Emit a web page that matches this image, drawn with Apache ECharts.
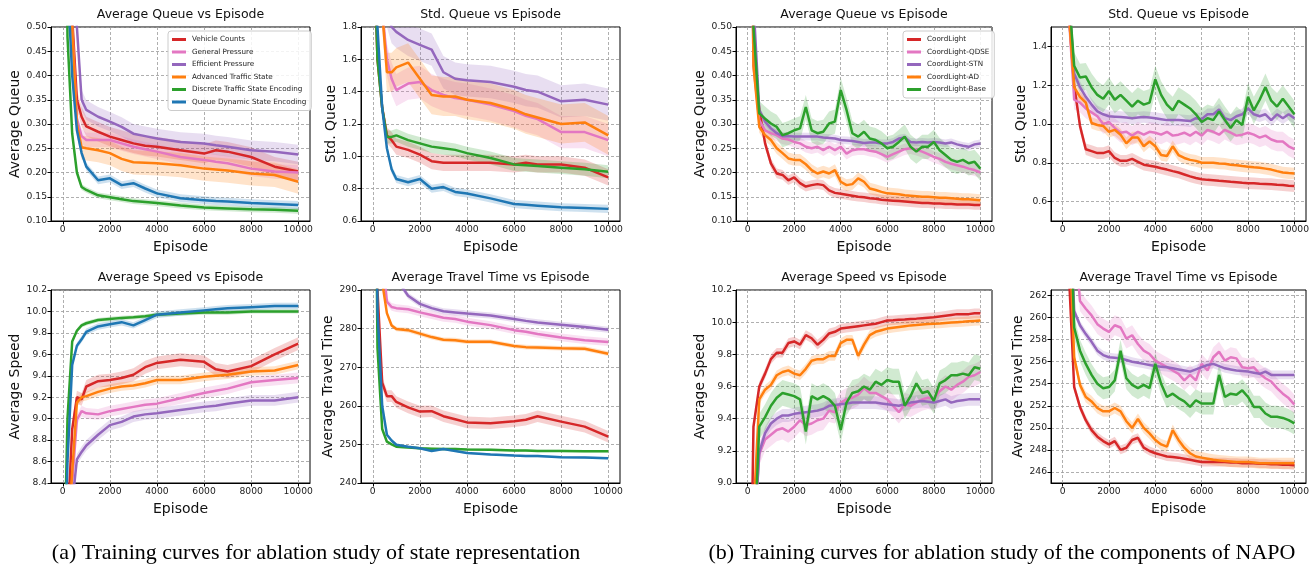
<!DOCTYPE html>
<html><head><meta charset="utf-8">
<script src="https://cdn.jsdelivr.net/npm/echarts@6/dist/echarts.min.js"></script>
<style>html,body{margin:0;padding:0;background:#fff}#c{width:1315px;height:566px}</style>
</head><body><div id="c"></div>
<script>
// ---------- data ----------
const NAMES_A = ['Vehicle Counts','General Pressure','Efficient Pressure','Advanced Traffic State','Discrete Traffic State Encoding','Queue Dynamic State Encoding'];
const NAMES_B = ['CoordLight','CoordLight-QDSE','CoordLight-STN','CoordLight-AD','CoordLight-Base'];
const X_TICKS = [0, 2000, 4000, 6000, 8000, 10000];
const EP_A = [0, 200, 400, 600, 800, 1000, 1500, 2000, 2500, 3000, 3500, 4000, 5000, 6000, 6500, 7000, 8000, 9000, 10000];
const EP_B = [0,250,500,750,1000,1250,1500,1750,2000,2250,2500,2750,3000,3250,3500,3750,4000,4250,4500,4750,5000,5250,5500,5750,6000,6250,6500,6750,7000,7250,7500,7750,8000,8250,8500,8750,9000,9250,9500,9750,10000];

// (a) Average Queue
const aq_a_vehicle   = [1.5, 0.8, 0.52, 0.35, 0.315, 0.295, 0.284, 0.274, 0.267, 0.26, 0.255, 0.253, 0.246, 0.239, 0.246, 0.243, 0.232, 0.212, 0.202];
const aq_a_general   = [1.5, 0.8, 0.5, 0.31, 0.275, 0.267, 0.267, 0.267, 0.26, 0.253, 0.248, 0.243, 0.232, 0.226, 0.222, 0.219, 0.208, 0.202, 0.2];
const aq_a_efficient = [1.5, 0.9, 0.65, 0.5, 0.35, 0.329, 0.315, 0.305, 0.294, 0.28, 0.275, 0.27, 0.263, 0.26, 0.256, 0.253, 0.246, 0.243, 0.237];
const aq_a_advanced  = [1.5, 0.8, 0.5, 0.3, 0.252, 0.25, 0.246, 0.24, 0.228, 0.221, 0.22, 0.219, 0.215, 0.208, 0.206, 0.204, 0.198, 0.195, 0.181];
const aq_a_discrete  = [1.5, 0.48, 0.28, 0.2, 0.17, 0.164, 0.153, 0.149, 0.145, 0.141, 0.139, 0.137, 0.132, 0.128, 0.127, 0.126, 0.124, 0.123, 0.121];
const aq_a_queuedyn  = [1.5, 0.6, 0.4, 0.287, 0.24, 0.212, 0.184, 0.188, 0.174, 0.178, 0.167, 0.157, 0.147, 0.143, 0.141, 0.14, 0.137, 0.135, 0.133];
const aq_a_spread    = [0.02, 0.015, 0.02, 0.025, 0.006, 0.008];
// (a) Std Queue
const sq_a_vehicle   = [2.5, 1.6, 1.3, 1.13, 1.1, 1.06, 1.04, 1.01, 0.97, 0.96, 0.96, 0.96, 0.96, 0.95, 0.96, 0.95, 0.95, 0.93, 0.87];
const sq_a_general   = [3, 2.3, 1.9, 1.6, 1.48, 1.41, 1.45, 1.46, 1.41, 1.38, 1.36, 1.35, 1.32, 1.28, 1.25, 1.23, 1.15, 1.15, 1.10];
const sq_a_efficient = [3, 2.4, 2.1, 1.9, 1.8, 1.77, 1.72, 1.69, 1.66, 1.52, 1.48, 1.47, 1.46, 1.43, 1.41, 1.40, 1.34, 1.35, 1.32];
const sq_a_advanced  = [3, 2.3, 1.9, 1.52, 1.52, 1.55, 1.58, 1.48, 1.38, 1.37, 1.37, 1.35, 1.33, 1.29, 1.26, 1.24, 1.20, 1.21, 1.13];
const sq_a_discrete  = [2.5, 1.6, 1.3, 1.12, 1.12, 1.13, 1.10, 1.08, 1.06, 1.05, 1.04, 1.02, 0.99, 0.95, 0.945, 0.94, 0.93, 0.92, 0.905];
const sq_a_queuedyn  = [2.5, 1.8, 1.3, 1.05, 0.92, 0.86, 0.84, 0.86, 0.8, 0.81, 0.78, 0.77, 0.74, 0.705, 0.70, 0.695, 0.685, 0.68, 0.675];
const sq_a_spread    = [0.05, 0.1, 0.1, 0.12, 0.04, 0.025];
// (a) Average Speed
const sp_a_vehicle   = [7, 8.0, 8.9, 9.2, 9.18, 9.3, 9.35, 9.36, 9.38, 9.41, 9.48, 9.52, 9.55, 9.53, 9.46, 9.44, 9.49, 9.6, 9.70];
const sp_a_general   = [7, 7.8, 8.4, 8.99, 9.07, 9.05, 9.04, 9.07, 9.09, 9.11, 9.13, 9.14, 9.19, 9.24, 9.26, 9.28, 9.34, 9.36, 9.38];
const sp_a_efficient = [7, 7.5, 8.2, 8.62, 8.69, 8.75, 8.85, 8.94, 8.97, 9.02, 9.04, 9.05, 9.08, 9.11, 9.12, 9.14, 9.17, 9.17, 9.20];
const sp_a_advanced  = [7, 7.8, 8.5, 9.15, 9.2, 9.21, 9.25, 9.28, 9.3, 9.31, 9.33, 9.36, 9.36, 9.39, 9.40, 9.41, 9.44, 9.45, 9.50];
const sp_a_discrete  = [7, 9.0, 9.72, 9.82, 9.87, 9.89, 9.92, 9.93, 9.94, 9.945, 9.955, 9.97, 9.98, 9.99, 9.99, 9.99, 10.0, 10.0, 10.0];
const sp_a_queuedyn  = [7, 8.6, 9.5, 9.68, 9.74, 9.81, 9.86, 9.88, 9.9, 9.87, 9.92, 9.97, 9.99, 10.01, 10.02, 10.03, 10.04, 10.05, 10.05];
const sp_a_spread    = [0.06, 0.05, 0.05, 0.04, 0.02, 0.03];
// (a) Average Travel Time
const tt_a_vehicle   = [400, 290, 266, 262.5, 262.5, 261, 259.6, 258.5, 258.6, 257.3, 256.5, 255.7, 255.5, 256.0, 256.4, 257.3, 255.9, 254.6, 252.0];
const tt_a_general   = [400, 330, 300, 287, 285.6, 285.3, 285.0, 284.2, 283.5, 282.8, 282.5, 281.8, 280.9, 279.6, 279.2, 278.6, 277.7, 277.0, 276.5];
const tt_a_efficient = [400, 340, 310, 300, 296, 293, 288.5, 286.4, 285.3, 284.5, 284.2, 283.9, 283.4, 282.5, 282.0, 281.6, 281.0, 280.4, 279.7];
const tt_a_advanced  = [400, 320, 292, 284, 280.8, 279.9, 279.6, 278.7, 277.8, 277.1, 277.0, 276.6, 276.6, 275.5, 275.2, 275.1, 274.9, 274.8, 273.5];
const tt_a_discrete  = [400, 275, 254, 250.7, 250.0, 249.4, 249.2, 249.0, 248.9, 248.8, 248.8, 248.7, 248.6, 248.4, 248.4, 248.3, 248.3, 248.2, 248.2];
const tt_a_queuedyn  = [400, 285, 260, 252.5, 251.0, 249.9, 249.4, 249.0, 248.3, 248.8, 248.3, 247.8, 247.4, 247.1, 247.0, 247.0, 246.7, 246.6, 246.4];
const tt_a_spread    = [1.5, 1.0, 0.8, 0.6, 0.3, 0.3];

// (b) Average Queue
const aq_b_coord = [1.5,0.45,0.33,0.26,0.219,0.198,0.195,0.184,0.19,0.178,0.171,0.174,0.176,0.174,0.163,0.158,0.156,0.154,0.152,0.150,0.149,0.147,0.146,0.144,0.143,0.142,0.141,0.140,0.139,0.138,0.137,0.137,0.136,0.136,0.135,0.135,0.134,0.134,0.134,0.133,0.133];
const aq_b_qdse  = [1.5,0.42,0.308,0.287,0.281,0.277,0.27,0.268,0.263,0.26,0.253,0.25,0.253,0.246,0.253,0.246,0.253,0.239,0.246,0.248,0.248,0.245,0.243,0.238,0.232,0.238,0.243,0.248,0.25,0.247,0.243,0.238,0.232,0.228,0.222,0.218,0.215,0.212,0.208,0.205,0.2];
const aq_b_stn   = [1.5,0.55,0.329,0.305,0.291,0.281,0.275,0.275,0.274,0.274,0.274,0.274,0.274,0.272,0.271,0.27,0.267,0.266,0.265,0.263,0.261,0.262,0.262,0.260,0.26,0.263,0.27,0.272,0.263,0.262,0.263,0.262,0.263,0.262,0.26,0.262,0.258,0.255,0.253,0.258,0.26];
const aq_b_ad    = [1.5,0.42,0.294,0.277,0.267,0.25,0.24,0.229,0.226,0.226,0.217,0.205,0.198,0.202,0.198,0.205,0.181,0.174,0.176,0.188,0.181,0.167,0.164,0.16,0.157,0.156,0.155,0.153,0.152,0.151,0.150,0.150,0.149,0.148,0.148,0.147,0.146,0.145,0.145,0.144,0.143];
const aq_b_base  = [1.5,0.5,0.322,0.311,0.301,0.294,0.277,0.281,0.287,0.291,0.335,0.287,0.281,0.284,0.301,0.305,0.37,0.329,0.281,0.274,0.284,0.27,0.267,0.26,0.25,0.253,0.263,0.274,0.253,0.243,0.253,0.253,0.263,0.246,0.236,0.226,0.222,0.226,0.219,0.222,0.208];
const aq_b_spread = [0.01, 0.012, 0.008, 0.012, 0.025];
// (b) Std Queue
const sq_b_coord = [3,1.6,1.2,0.99,0.87,0.86,0.85,0.85,0.86,0.825,0.81,0.81,0.82,0.805,0.79,0.785,0.78,0.772,0.765,0.757,0.75,0.74,0.73,0.722,0.715,0.712,0.71,0.707,0.705,0.702,0.70,0.697,0.695,0.694,0.692,0.691,0.69,0.687,0.685,0.682,0.68];
const sq_b_qdse  = [3,1.6,1.125,1.11,1.08,1.06,1.04,1.0,1.01,0.98,0.955,0.96,0.94,0.96,0.945,0.96,0.955,0.945,0.96,0.94,0.945,0.955,0.94,0.96,0.94,0.97,0.96,0.945,0.97,0.955,0.94,0.945,0.955,0.945,0.93,0.94,0.92,0.91,0.91,0.885,0.87];
const sq_b_stn   = [3,1.7,1.26,1.19,1.14,1.10,1.065,1.05,1.04,1.038,1.036,1.033,1.03,1.033,1.036,1.033,1.03,1.025,1.02,1.02,1.02,1.018,1.015,1.03,1.025,1.05,1.05,1.075,1.03,1.02,1.04,1.05,1.08,1.05,1.04,1.05,1.02,1.05,1.03,1.05,1.03];
const sq_b_ad    = [3,1.6,1.19,1.14,1.11,1.005,0.995,0.99,0.96,0.97,0.945,0.90,0.93,0.93,0.885,0.91,0.885,0.84,0.835,0.885,0.84,0.825,0.815,0.81,0.80,0.80,0.80,0.797,0.795,0.79,0.787,0.783,0.78,0.777,0.775,0.77,0.765,0.757,0.75,0.747,0.745];
const sq_b_base  = [3,1.7,1.30,1.24,1.245,1.19,1.15,1.13,1.17,1.125,1.15,1.12,1.09,1.12,1.10,1.11,1.23,1.15,1.10,1.07,1.12,1.10,1.08,1.05,1.01,1.03,1.02,1.065,1.02,0.98,1.02,0.995,1.14,1.07,1.125,1.19,1.12,1.09,1.13,1.09,1.05];
const sq_b_spread = [0.03, 0.05, 0.03, 0.03, 0.07];
// (b) Average Speed
const sp_b_coord = [7,9.35,9.60,9.68,9.77,9.81,9.81,9.87,9.88,9.86,9.92,9.90,9.86,9.89,9.93,9.94,9.96,9.965,9.97,9.975,9.98,9.985,9.99,10.0,10.01,10.012,10.015,10.017,10.02,10.022,10.025,10.028,10.03,10.035,10.04,10.045,10.05,10.05,10.05,10.055,10.055];
const sp_b_qdse  = [7,8.6,9.18,9.27,9.30,9.33,9.34,9.32,9.35,9.39,9.36,9.37,9.39,9.40,9.45,9.44,9.50,9.52,9.53,9.55,9.59,9.56,9.56,9.54,9.52,9.48,9.44,9.49,9.48,9.50,9.52,9.53,9.52,9.57,9.60,9.58,9.61,9.63,9.66,9.67,9.69];
const sp_b_stn   = [7,8.6,9.19,9.31,9.37,9.40,9.42,9.42,9.43,9.435,9.44,9.445,9.45,9.46,9.48,9.485,9.49,9.495,9.50,9.50,9.50,9.50,9.50,9.495,9.49,9.485,9.48,9.49,9.50,9.505,9.51,9.505,9.50,9.51,9.52,9.50,9.51,9.515,9.52,9.52,9.52];
const sp_b_ad    = [7,8.8,9.52,9.58,9.61,9.67,9.69,9.70,9.68,9.67,9.71,9.76,9.77,9.77,9.79,9.79,9.87,9.89,9.89,9.79,9.86,9.92,9.94,9.95,9.96,9.965,9.97,9.975,9.98,9.982,9.985,9.988,9.99,9.992,9.995,9.998,10.0,10.002,10.005,10.008,10.01];
const sp_b_base  = [7,8.5,9.35,9.41,9.48,9.53,9.56,9.55,9.54,9.52,9.32,9.54,9.52,9.54,9.52,9.48,9.33,9.50,9.56,9.57,9.60,9.58,9.63,9.61,9.64,9.63,9.63,9.48,9.54,9.62,9.56,9.57,9.51,9.62,9.64,9.67,9.67,9.68,9.67,9.72,9.71];
const sp_b_spread = [0.03, 0.07, 0.04, 0.03, 0.08];
// (b) Average Travel Time
const tt_b_coord = [330,265,253.7,251.9,250.7,249.8,249.2,248.8,248.5,248.8,248.0,248.2,248.9,249.1,248.2,247.9,247.7,247.55,247.4,247.35,247.3,247.2,247.1,247.0,246.9,246.9,246.9,246.9,246.9,246.85,246.85,246.8,246.8,246.8,246.75,246.75,246.7,246.7,246.65,246.65,246.6];
const tt_b_qdse  = [330,285,268,261.5,260.8,260.2,259.4,259.0,258.7,259.3,259.1,258.1,258.4,257.6,257.0,256.7,256.1,255.8,255.5,255.2,254.9,254.3,254.8,254.3,255.8,255.2,256.4,256.9,256.1,256.4,256.3,255.5,255.4,255.5,254.9,254.5,254.2,253.6,253.1,252.7,252.1];
const tt_b_stn   = [330,275,260.6,259.3,258.5,257.8,257.0,256.6,256.4,256.35,256.3,256.15,256.0,255.9,255.8,255.7,255.6,255.55,255.5,255.4,255.3,255.2,255.1,255.3,255.5,255.7,255.8,255.6,255.4,255.3,255.2,255.15,255.1,255.0,254.9,255.1,254.8,254.8,254.8,254.8,254.8];
const tt_b_ad    = [330,270,256.4,253.9,252.8,252.4,251.8,251.5,251.5,251.8,251.5,250.6,250.0,250.8,250.0,249.5,248.9,248.5,248.3,249.8,248.9,248.2,247.7,247.4,247.3,247.2,247.1,247.05,247.0,246.95,246.9,246.9,246.9,246.85,246.8,246.8,246.8,246.8,246.8,246.8,246.8];
const tt_b_base  = [330,275,259.1,257.0,255.8,254.8,254.0,253.6,253.7,254.3,257.0,254.5,253.9,253.6,253.9,253.6,255.8,254.0,252.8,253.1,252.7,252.4,251.9,252.5,252.2,252.2,252.2,254.8,252.8,253.1,253.0,253.4,252.8,251.9,251.9,251.3,251.0,251.0,250.9,250.7,250.4];
const tt_b_spread = [0.4, 0.9, 0.4, 0.5, 1.0];

// y-axis tick labels
const Y_TICKS_AQ = [0.10, 0.15, 0.20, 0.25, 0.30, 0.35, 0.40, 0.45, 0.50];
const Y_TICKS_SQ_A = [0.6, 0.8, 1.0, 1.2, 1.4, 1.6, 1.8];
const Y_TICKS_SP_A = [8.4, 8.6, 8.8, 9.0, 9.2, 9.4, 9.6, 9.8, 10.0, 10.2];
const Y_TICKS_TT_A = [240, 250, 260, 270, 280, 290];
const Y_TICKS_SQ_B = [0.6, 0.8, 1.0, 1.2, 1.4];
const Y_TICKS_SP_B = [9.0, 9.2, 9.4, 9.6, 9.8, 10.0, 10.2];
const Y_TICKS_TT_B = [246, 248, 250, 252, 254, 256, 258, 260, 262];

// ---------- layout / style ----------
const COL_A = ['#d62728', '#e377c2', '#9467bd', '#ff7f0e', '#2ca02c', '#1f77b4'];
const COL_B = ['#d62728', '#e377c2', '#9467bd', '#ff7f0e', '#2ca02c'];
const FONT = 'DejaVu Sans';

const panels = [
  {l:51,  t:27,  w:259, h:194, title:'Average Queue vs Episode', yname:'Average Queue', gap:27, ymin:0.10, ymax:0.50, ticks:Y_TICKS_AQ, dec:2, X:EP_A, names:NAMES_A, cols:COL_A,
   ys:[aq_a_vehicle, aq_a_general, aq_a_efficient, aq_a_advanced, aq_a_discrete, aq_a_queuedyn], sp:aq_a_spread},
  {l:361, t:27,  w:259, h:194, title:'Std. Queue vs Episode', yname:'Std. Queue', gap:22, ymin:0.6, ymax:1.8, ticks:Y_TICKS_SQ_A, dec:1, X:EP_A, names:NAMES_A, cols:COL_A,
   ys:[sq_a_vehicle, sq_a_general, sq_a_efficient, sq_a_advanced, sq_a_discrete, sq_a_queuedyn], sp:sq_a_spread},
  {l:51,  t:290, w:259, h:193, title:'Average Speed vs Episode', yname:'Average Speed', gap:27, ymin:8.4, ymax:10.2, ticks:Y_TICKS_SP_A, dec:1, X:EP_A, names:NAMES_A, cols:COL_A,
   ys:[sp_a_vehicle, sp_a_general, sp_a_efficient, sp_a_advanced, sp_a_discrete, sp_a_queuedyn], sp:sp_a_spread},
  {l:361, t:290, w:259, h:193, title:'Average Travel Time vs Episode', yname:'Average Travel Time', gap:25, ymin:240, ymax:290, ticks:Y_TICKS_TT_A, dec:0, X:EP_A, names:NAMES_A, cols:COL_A,
   ys:[tt_a_vehicle, tt_a_general, tt_a_efficient, tt_a_advanced, tt_a_discrete, tt_a_queuedyn], sp:tt_a_spread},
  {l:736, t:27,  w:256, h:194, title:'Average Queue vs Episode', yname:'Average Queue', gap:26, ymin:0.10, ymax:0.50, ticks:Y_TICKS_AQ, dec:2, X:EP_B, names:NAMES_B, cols:COL_B,
   ys:[aq_b_coord, aq_b_qdse, aq_b_stn, aq_b_ad, aq_b_base], sp:aq_b_spread},
  {l:1051,t:27,  w:255, h:194, title:'Std. Queue vs Episode', yname:'Std. Queue', gap:22, ymin:0.5, ymax:1.5, ticks:Y_TICKS_SQ_B, dec:1, X:EP_B, names:NAMES_B, cols:COL_B,
   ys:[sq_b_coord, sq_b_qdse, sq_b_stn, sq_b_ad, sq_b_base], sp:sq_b_spread},
  {l:736, t:290, w:256, h:193, title:'Average Speed vs Episode', yname:'Average Speed', gap:26, ymin:9.0, ymax:10.2, ticks:Y_TICKS_SP_B, dec:1, X:EP_B, names:NAMES_B, cols:COL_B,
   ys:[sp_b_coord, sp_b_qdse, sp_b_stn, sp_b_ad, sp_b_base], sp:sp_b_spread},
  {l:1051,t:290, w:255, h:193, title:'Average Travel Time vs Episode', yname:'Average Travel Time', gap:25, ymin:245.0, ymax:262.5, ticks:Y_TICKS_TT_B, dec:0, X:EP_B, names:NAMES_B, cols:COL_B,
   ys:[tt_b_coord, tt_b_qdse, tt_b_stn, tt_b_ad, tt_b_base], sp:tt_b_spread}
];

const grid = [], xAxis = [], yAxis = [], series = [], graphic = [];
const gridLine = {show:true, lineStyle:{color:'#9a9a9a', width:0.8, type:[3,2]}};

// band polygon through the library's coordinate mapping
function bandRenderer(color, X, Y, s) {
  return function (params, api) {
    if (params.dataIndex !== 0) return null;
    const lo = [], hi = [];
    for (let i = 0; i < X.length; i++) {
      lo.push(api.coord([X[i], Y[i] - s]));
      hi.push(api.coord([X[i], Y[i] + s]));
    }
    const pts = lo.concat(hi.reverse());
    const cs = params.coordSys;
    return {type:'polygon', shape:{points:pts},
      clipPath:{type:'rect', shape:{x:cs.x, y:cs.y, width:cs.width, height:cs.height}},
      style:{fill:color, opacity:0.22}, silent:true};
  };
}

panels.forEach((p, gi) => {
  grid.push({left:p.l, top:p.t, width:p.w, height:p.h, show:true, borderColor:'#000', borderWidth:1, backgroundColor:'transparent'});
  xAxis.push({type:'value', gridIndex:gi, min:-500, max:10500,
    axisLine:{show:true, onZero:false, lineStyle:{color:'#000', width:1}},
    axisTick:{show:true, customValues:X_TICKS, length:3.5, lineStyle:{color:'#000'}},
    axisLabel:{customValues:X_TICKS, color:'#222', fontFamily:FONT, fontSize:9.2, margin:4, formatter:(v) => String(Math.round(v))},
    splitLine:gridLine,
    name:'Episode', nameLocation:'middle', nameGap:19, nameTextStyle:{fontFamily:FONT, fontSize:14, color:'#111'}});
  yAxis.push({type:'value', gridIndex:gi, min:p.ymin, max:p.ymax,
    axisLine:{show:true, onZero:false, lineStyle:{color:'#000', width:1}},
    axisTick:{show:true, customValues:p.ticks, length:3.5, lineStyle:{color:'#000'}},
    axisLabel:{customValues:p.ticks, color:'#222', fontFamily:FONT, fontSize:9.2, margin:4,
      formatter: (v) => Number(v).toFixed(p.dec)},
    splitLine:gridLine,
    name:p.yname, nameLocation:'middle', nameGap:p.gap, nameTextStyle:{fontFamily:FONT, fontSize:14, color:'#111'}});
  graphic.push({type:'text', x:p.l + p.w/2, y:p.t - 12, style:{text:p.title, font:'12.5px "DejaVu Sans"', fill:'#111', align:'center', verticalAlign:'middle'}});
  // bands (spread of the raw signal around each curve)
  p.ys.forEach((Y, k) => {
    series.push({type:'custom', name:'_band' + gi + '_' + k, xAxisIndex:gi, yAxisIndex:gi, z:1, silent:true, clip:true,
      renderItem:bandRenderer(p.cols[k], p.X, Y, p.sp[k]), encode:{x:0, y:1},
      data:[[p.X[p.X.length - 1], Y[Y.length - 1]]]});
  });
  p.ys.forEach((Y, k) => {
    series.push({type:'line', name:p.names[k], xAxisIndex:gi, yAxisIndex:gi, symbol:'none', z:3 + k,
      lineStyle:{color:p.cols[k], width:2.5}, itemStyle:{color:p.cols[k]},
      data:p.X.map((x, i) => [x, Y[i]])});
  });
});

graphic.push({type:'text', x:316, y:553, style:{text:'(a) Training curves for ablation study of state representation', font:'22px "Liberation Serif"', fill:'#000', align:'center', verticalAlign:'middle'}});
graphic.push({type:'text', x:1002, y:553, style:{text:'(b) Training curves for ablation study of the components of NAPO', font:'22px "Liberation Serif"', fill:'#000', align:'center', verticalAlign:'middle'}});

const legendBase = {orient:'vertical', icon:'rect', itemWidth:14, itemHeight:3, itemGap:3.5,
  backgroundColor:'rgba(255,255,255,0.85)', borderColor:'#ccc', borderWidth:1, borderRadius:3, padding:[4,5,4,4],
  textStyle:{fontFamily:FONT, fontSize:7.2, color:'#222', lineHeight:9, padding:[0,0,0,1]}, selectedMode:false};
const legend = [
  Object.assign({}, legendBase, {data:NAMES_A, left:168, top:31}),
  Object.assign({}, legendBase, {data:NAMES_B, left:903, top:31})
];

const chart = echarts.init(document.getElementById('c'), null, {renderer:'canvas'});
chart.setOption({animation:false, backgroundColor:'#fff', grid, xAxis, yAxis, series, legend, graphic});
</script></body></html>
